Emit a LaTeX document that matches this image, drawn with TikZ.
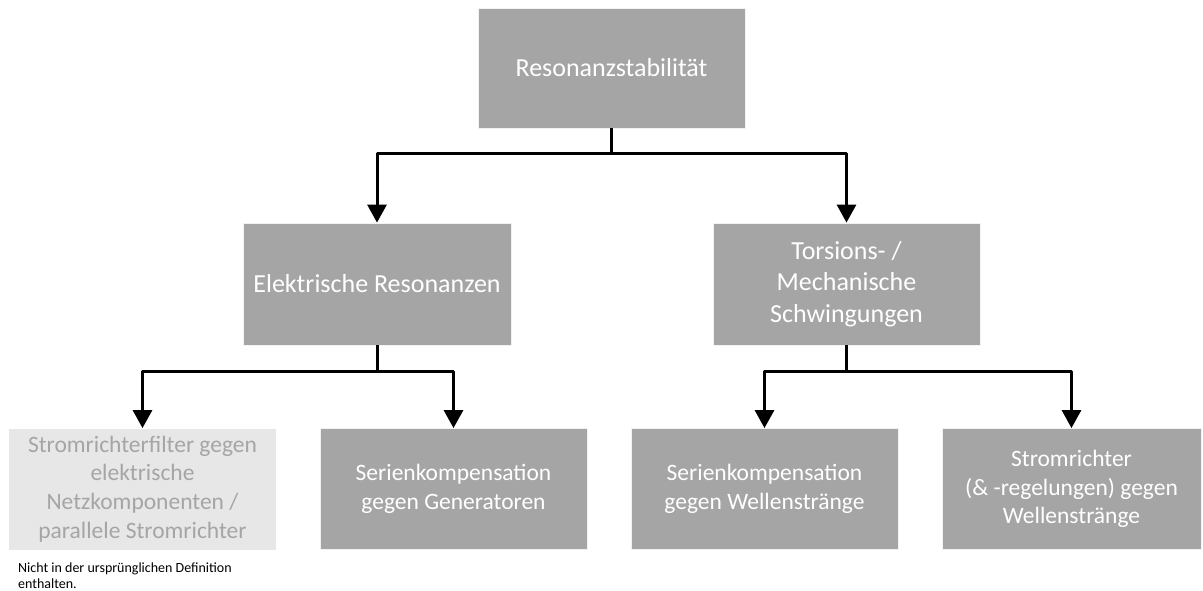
\documentclass[tikz,border=0pt]{standalone}
\usepackage{fontspec}
\setmainfont{Carlito}
\usetikzlibrary{arrows.meta}
\definecolor{boxgray}{HTML}{A5A5A5}
\definecolor{lightbox}{HTML}{E7E7E7}
\definecolor{lighttext}{HTML}{A5A5A5}
\begin{document}
\begin{tikzpicture}[x=1pt,y=-1pt,
  darkbox/.style={fill=boxgray, draw=white!85!boxgray, line width=0.8pt, text=white, align=center,
    inner sep=0pt, minimum width=267pt, minimum height=121pt,
    font=\fontsize{26}{31.7}\selectfont},
  lowbox/.style={darkbox, font=\fontsize{23.5}{28.8}\selectfont},
  palebox/.style={lowbox, fill=lightbox, draw=none, text=lighttext},
  conn/.style={line width=3pt, line join=round, draw=black},
  arr/.style={conn, -{Triangle[width=19pt,length=18pt]}},
  note/.style={font=\fontsize{14}{15.5}\selectfont, align=left, inner sep=0pt, anchor=base west}
]
\useasboundingbox (0,0) rectangle (1203,591);
\fill[white] (0,0) rectangle (1203,591);

\node[darkbox, minimum height=120pt] (top) at (611.5,68) {Resonanzstabilität};
\node[darkbox, minimum height=122pt, minimum width=268pt] (el) at (377,284) {Elektrische Resonanzen};
\node[darkbox, minimum height=122pt] (mech) at (846.5,284) {Torsions- /\\Mechanische\\Schwingungen};

\node[palebox] (filt) at (142.5,489) {Stromrichterfilter gegen\\elektrische\\Netzkomponenten /\\parallele Stromrichter};
\node[lowbox] (sgen) at (453.5,489) {Serienkompensation\\gegen Generatoren};
\node[lowbox] (swel) at (764.5,489) {Serienkompensation\\gegen Wellenstränge};
\node[lowbox, minimum width=259pt] (strom) at (1071.5,489) {Stromrichter\\(\& -regelungen) gegen\\Wellenstränge};

\node[note] (fn) at (18,588) {Nicht in der ursprünglichen Definition\\enthalten.};

% connectors
\coordinate (j1) at (611.5,154);
\draw[conn] (top.south) -- (j1);
\draw[arr] (j1) -| (el.north);
\draw[arr] (j1) -| (mech.north);

\coordinate (j2) at (377,371);
\draw[conn] (el.south) -- (j2);
\draw[arr] (j2) -| (filt.north);
\draw[arr] (j2) -| (sgen.north);

\coordinate (j3) at (846.5,371);
\draw[conn] (mech.south) -- (j3);
\draw[arr] (j3) -| (swel.north);
\draw[arr] (j3) -| (strom.north);
\end{tikzpicture}
\end{document}
